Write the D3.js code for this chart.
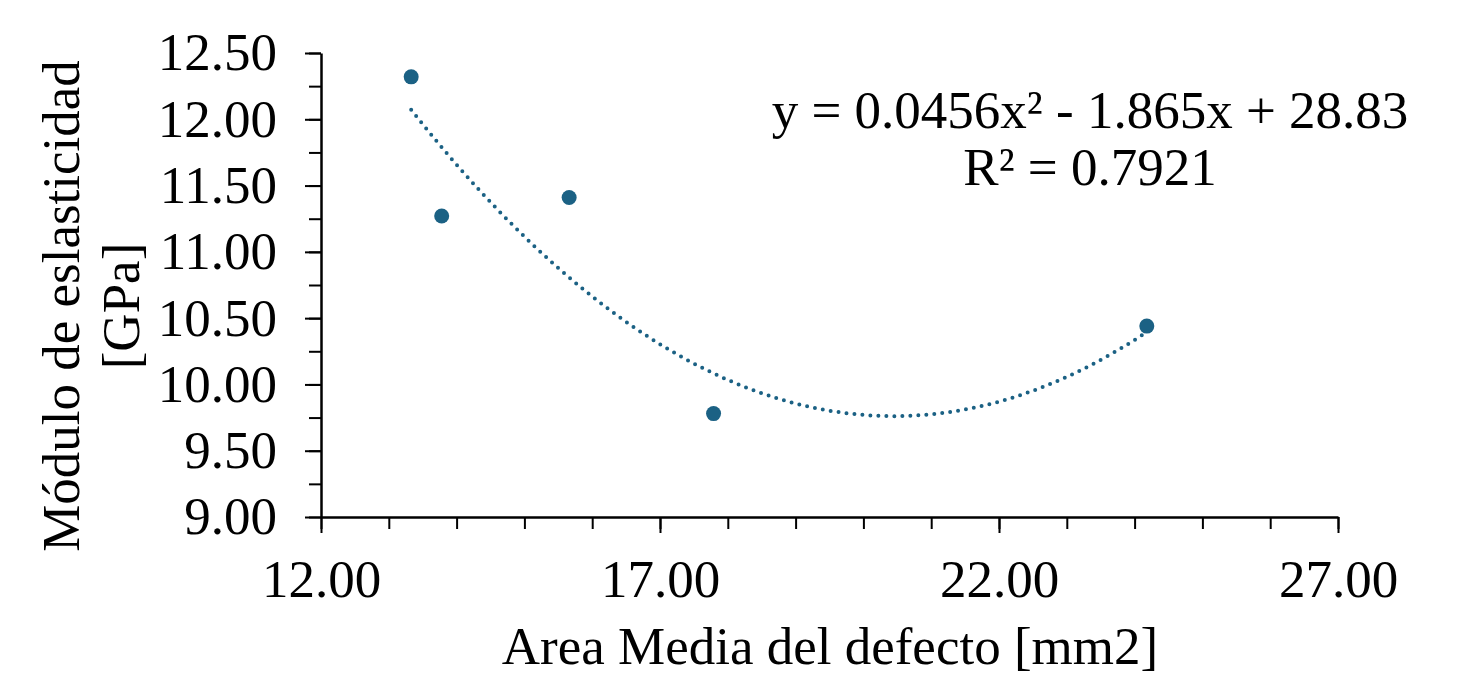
<!DOCTYPE html>
<html>
<head>
<meta charset="utf-8">
<script src="https://cdn.jsdelivr.net/npm/d3@7"></script>
<style>
  body { margin: 0; background: #fff; }
  svg text { font-family: "Liberation Serif", "Times New Roman", serif; fill: #000; }
</style>
</head>
<body>
<div id="chart"></div>
<script>
// data
const areaMedia = [13.33, 13.78, 15.66, 17.79, 24.18];
const modulo = [12.32, 11.27, 11.41, 9.78, 10.44];
// trendline coefficients as printed on the chart: y = a x^2 + b x + c
const trendCoef = [0.0456, -1.865, 28.83];
const trendLabel = ['y = 0.0456x\u00B2 - 1.865x + 28.83', 'R\u00B2 = 0.7921'];
const xMajorTicks = [12, 17, 22, 27];
const xMinorTicks = d3.range(12, 28, 1);
const yMajorTicks = [9, 9.5, 10, 10.5, 11, 11.5, 12, 12.5];
const yMinorTicks = d3.range(9, 12.51, 0.25);
const xTitle = 'Area Media del defecto [mm2]';
const yTitle = ['Módulo de eslasticidad', '[GPa]'];

const svgWidth = 1459, svgHeight = 674;
const margin = { left: 321, top: 53, right: 121, bottom: 157 };
const width = svgWidth - margin.left - margin.right;
const height = svgHeight - margin.top - margin.bottom;
const fontSize = 53;
const color = '#1b6184';

function translate(x, y) {
    return 'translate(' + x + ',' + y + ')';
}

const svg = d3.select('#chart').append('svg')
    .attr('width', svgWidth)
    .attr('height', svgHeight);

const g = svg.append('g').attr('transform', translate(margin.left, margin.top));

const xScale = d3.scaleLinear().domain([12, 27]).range([0, width]);
const yScale = d3.scaleLinear().domain([9, 12.5]).range([height, 0]);
const fmt = d3.format('.2f');

// minor ticks first, no labels
g.append('g').attr('transform', translate(0, height))
    .call(d3.axisBottom(xScale).tickValues(xMinorTicks).tickSize(12).tickFormat(''))
    .call(a => a.select('.domain').remove());
g.append('g')
    .call(d3.axisLeft(yScale).tickValues(yMinorTicks).tickSize(12).tickFormat(''))
    .call(a => a.select('.domain').remove());

const xAxis = g.append('g').attr('transform', translate(0, height))
    .call(d3.axisBottom(xScale).tickValues(xMajorTicks).tickSize(16).tickPadding(26).tickFormat(fmt).tickSizeOuter(0));
const yAxis = g.append('g')
    .call(d3.axisLeft(yScale).tickValues(yMajorTicks).tickSize(16).tickPadding(28).tickFormat(fmt).tickSizeOuter(0));

g.selectAll('.tick line').attr('stroke', '#000').attr('stroke-width', 2);
g.selectAll('.domain').attr('stroke', '#000').attr('stroke-width', 2.5);
g.selectAll('.tick text')
    .style('font-family', '"Liberation Serif", "Times New Roman", serif')
    .style('font-size', fontSize + 'px')
    .attr('fill', '#000');

// polynomial trendline
const trendX = d3.range(areaMedia[0], areaMedia[areaMedia.length - 1], 0.05).concat([areaMedia[areaMedia.length - 1]]);
const trendData = trendX.map(x => [x, trendCoef[0] * x * x + trendCoef[1] * x + trendCoef[2]]);
g.append('path')
    .datum(trendData)
    .attr('fill', 'none')
    .attr('stroke', color)
    .attr('stroke-width', 4)
    .attr('stroke-linecap', 'round')
    .attr('stroke-dasharray', '0 8')
    .attr('d', d3.line().x(d => xScale(d[0])).y(d => yScale(d[1])));

// points
g.selectAll('circle.pt').data(areaMedia).enter()
    .append('circle')
    .attr('class', 'pt')
    .attr('cx', d => xScale(d))
    .attr('cy', (d, i) => yScale(modulo[i]))
    .attr('r', 7.5)
    .attr('fill', color);

// equation label
svg.append('g').selectAll('text').data(trendLabel).enter()
    .append('text')
    .attr('x', 1090)
    .attr('y', (d, i) => 128 + i * 57)
    .attr('text-anchor', 'middle')
    .style('font-size', fontSize + 'px')
    .text(d => d);

// axis titles
svg.append('text')
    .attr('x', 830)
    .attr('y', 664)
    .attr('text-anchor', 'middle')
    .style('font-size', fontSize + 'px')
    .text(xTitle);

svg.append('g').selectAll('text').data(yTitle).enter()
    .append('text')
    .attr('transform', (d, i) => translate(79 + i * 60, 306) + ' rotate(-90)')
    .attr('text-anchor', 'middle')
    .style('font-size', fontSize + 'px')
    .text(d => d);
</script>
</body>
</html>
